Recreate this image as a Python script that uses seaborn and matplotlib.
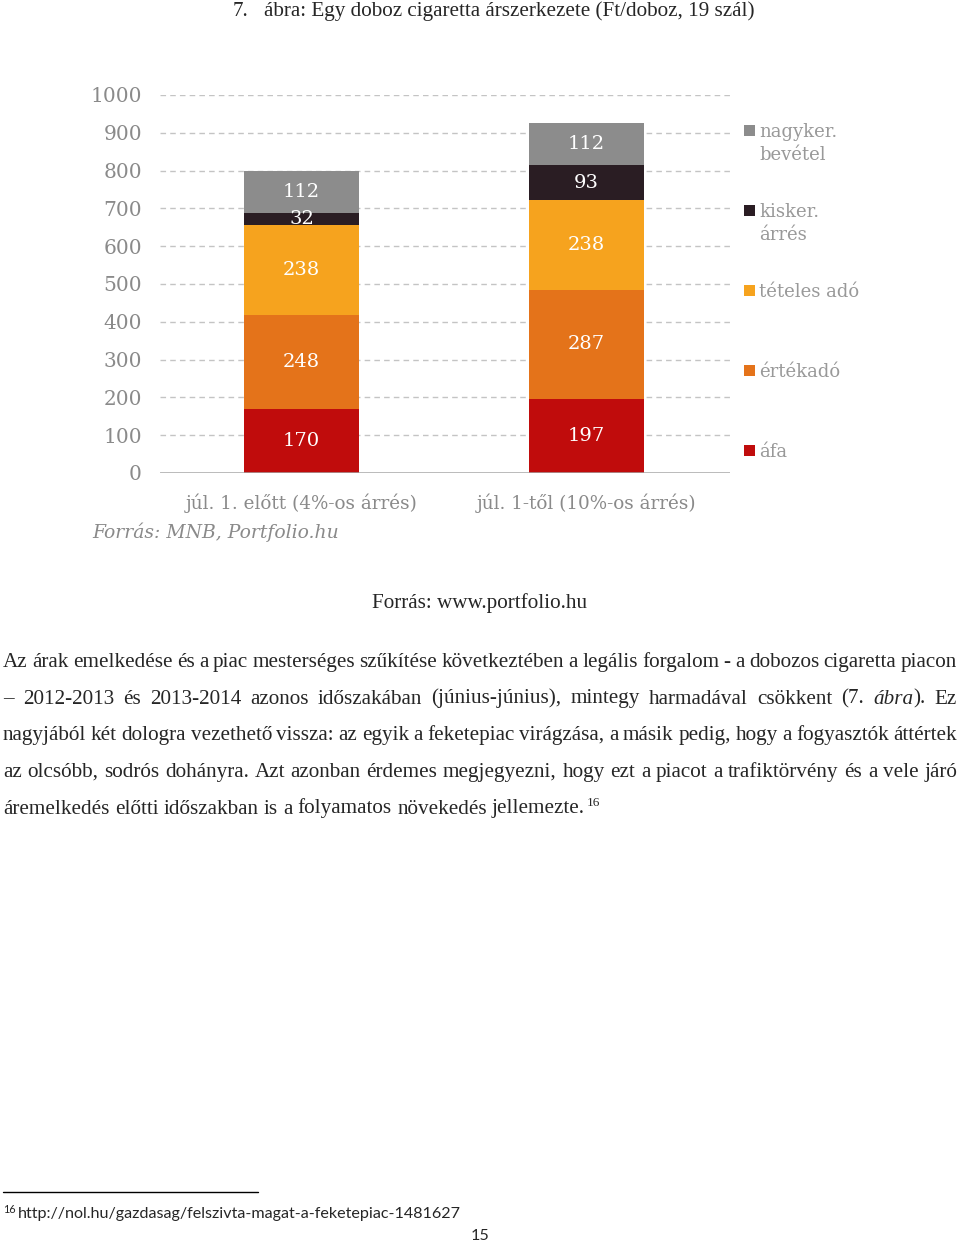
import matplotlib
matplotlib.use("Agg")
import matplotlib.pyplot as plt
import seaborn as sns
import numpy as np
import pandas as pd
from matplotlib.patches import Rectangle
from matplotlib.lines import Line2D

# ---------------- data ----------------
categories = ["júl. 1. előtt (4%-os árrés)", "júl. 1-től (10%-os árrés)"]
series_names = ["áfa", "értékadó", "tételes adó", "kisker.\nárrés", "nagyker.\nbevétel"]
afa = [170, 197]
ertekado = [248, 287]
teteles_ado = [238, 238]
kisker_arres = [32, 93]
nagyker_bevetel = [112, 112]
y_ticks = [0, 100, 200, 300, 400, 500, 600, 700, 800, 900, 1000]

series_values = [afa, ertekado, teteles_ado, kisker_arres, nagyker_bevetel]
colors = ["#c00c0c", "#e4731a", "#f6a31e", "#2a1d23", "#8c8c8c"]

W, H = 960, 1243
fig = plt.figure(figsize=(W / 100, H / 100), dpi=100)
sns.set_style("white")
plt.rcParams["font.family"] = ["DejaVu Serif"]


def fx(x):
    return x / W


def fy(y):
    return 1 - y / H


# ---------------- chart ----------------
ax = fig.add_axes([fx(160), fy(473), (730 - 160) / W, (473 - 95) / H])

cum = np.cumsum(np.array(series_values), axis=0)
df_rows = []
for i, name in enumerate(series_names):
    for j, cat in enumerate(categories):
        df_rows.append({"cat": cat, "series": name, "top": cum[i, j], "val": series_values[i][j]})
df = pd.DataFrame(df_rows)

# draw from the tallest cumulative layer down so each segment shows
for i in reversed(range(len(series_names))):
    sub = df[df["series"] == series_names[i]]
    sns.barplot(data=sub, x="cat", y="top", order=categories, color=colors[i],
                saturation=1, width=0.404, errorbar=None, ax=ax, zorder=3,
                linewidth=0)

ax.set_xlim(-0.4965, 1.5035)
ax.set_ylim(0, 1000)
ax.set_yticks(y_ticks)
ax.set_yticklabels([str(t) for t in y_ticks], fontsize=14.5, color="#8a8a8a",
                   family="DejaVu Serif")
ax.tick_params(axis="y", length=0, pad=13)
ax.tick_params(axis="x", length=0, pad=15)
ax.set_xticks([0, 1])
ax.set_xticklabels(categories, fontsize=13.2, color="#8a8a8a", family="DejaVu Serif")
ax.set_xlabel("")
ax.set_ylabel("")
for s in ax.spines.values():
    s.set_visible(False)
for t in y_ticks[1:]:
    ax.axhline(t, color="#c4c4c4", lw=1, ls=(0, (4, 3)), zorder=1)
ax.axhline(0, color="#a6a6a6", lw=1.8, zorder=4)

# value labels
for i in range(len(series_names)):
    for j in range(len(categories)):
        v = series_values[i][j]
        yc = cum[i, j] - v / 2
        ax.text(j, yc, str(v), ha="center", va="center", color="white",
                fontsize=14, family="DejaVu Serif", zorder=5)

# legend (manual, to mimic spacing)
leg_y = [130, 210, 290, 370, 450]
leg_order = [4, 3, 2, 1, 0]
for yy, i in zip(leg_y, leg_order):
    fig.add_artist(Rectangle((fx(744), fy(yy + 6)), 11 / W, 11 / H,
                             transform=fig.transFigure, color=colors[i], lw=0))
    for k, part in enumerate(series_names[i].split("\n")):
        fig.text(fx(759), fy(yy + 7 + 23 * k), part, fontsize=13, color="#999999",
                 family="DejaVu Serif", ha="left", va="baseline")

fig.text(fx(92), fy(538), "Forrás: MNB, Portfolio.hu", fontsize=13.5, style="italic",
         color="#8a8a8a", family="DejaVu Serif", ha="left", va="baseline")

# ---------------- document text ----------------
SERIF = "Liberation Serif"
BODY = 15.2
renderer = fig.canvas.get_renderer()

fig.text(fx(233), fy(16), "7.", fontsize=BODY, family=SERIF, ha="left", va="baseline")
fig.text(fx(264), fy(16), "ábra: Egy doboz cigaretta árszerkezete (Ft/doboz, 19 szál)",
         fontsize=BODY, family=SERIF, ha="left", va="baseline")
fig.text(fx(480), fy(608), "Forrás: www.portfolio.hu", fontsize=BODY, family=SERIF,
         ha="center", va="baseline")


def seg_width(text, style):
    t = fig.text(0, 0, text, fontsize=BODY, family=SERIF, style=style)
    w = t.get_window_extent(renderer).width
    t.remove()
    return w


def draw_line(words, y, x0, x1, justify=True):
    widths = [sum(seg_width(s, st) for s, st in w) for w in words]
    space = seg_width("a b", "normal") - seg_width("ab", "normal")
    if justify and len(words) > 1:
        gap = (x1 - x0 - sum(widths)) / (len(words) - 1)
    else:
        gap = space
    x = x0
    for w, wd in zip(words, widths):
        xx = x
        for s, st in w:
            fig.text(fx(xx), fy(y), s, fontsize=BODY, family=SERIF, style=st,
                     ha="left", va="baseline")
            xx += seg_width(s, st)
        x += wd + gap
    return x - gap


def plain(line):
    return [[(w, "normal")] for w in line.split(" ")]


lines = [
    "Az árak emelkedése és a piac mesterséges szűkítése következtében a legális forgalom - a dobozos cigaretta piacon",
    None,
    "nagyjából két dologra vezethető vissza: az egyik a feketepiac virágzása, a másik pedig, hogy a fogyasztók áttértek",
    "az olcsóbb, sodrós dohányra. Azt azonban érdemes megjegyezni, hogy ezt a piacot a trafiktörvény és a vele járó",
]
baselines = [667, 703.5, 740, 777, 813.5]
x0, x1 = 3, 957

draw_line(plain(lines[0]), baselines[0], x0, x1)
line2 = plain("– 2012-2013 és 2013-2014 azonos időszakában (június-június), mintegy harmadával csökkent (7.")
line2.append([("ábra", "italic"), (").", "normal")])
line2.append([("Ez", "normal")])
draw_line(line2, baselines[1], x0, x1)
draw_line(plain(lines[2]), baselines[2], x0, x1)
draw_line(plain(lines[3]), baselines[3], x0, x1)
xe = draw_line(plain("áremelkedés előtti időszakban is a folyamatos növekedés jellemezte."),
               baselines[4], x0, x1, justify=False)
fig.text(fx(xe + 2), fy(baselines[4] - 8), "16", fontsize=9.5, family=SERIF,
         ha="left", va="baseline")

# footnote
fig.add_artist(Line2D([fx(3), fx(258)], [fy(1192), fy(1192)], color="black", lw=1,
                      transform=fig.transFigure))
fig.text(fx(3), fy(1213), "16", fontsize=7.8, family="Lato", ha="left", va="baseline")
fig.text(fx(18), fy(1218), "http://nol.hu/gazdasag/felszivta-magat-a-feketepiac-1481627",
         fontsize=11.65, family="Lato", ha="left", va="baseline")
fig.text(fx(480), fy(1240), "15", fontsize=11.65, family="Lato", ha="center", va="baseline")

fig.savefig("out.png", dpi=100, facecolor="white")
